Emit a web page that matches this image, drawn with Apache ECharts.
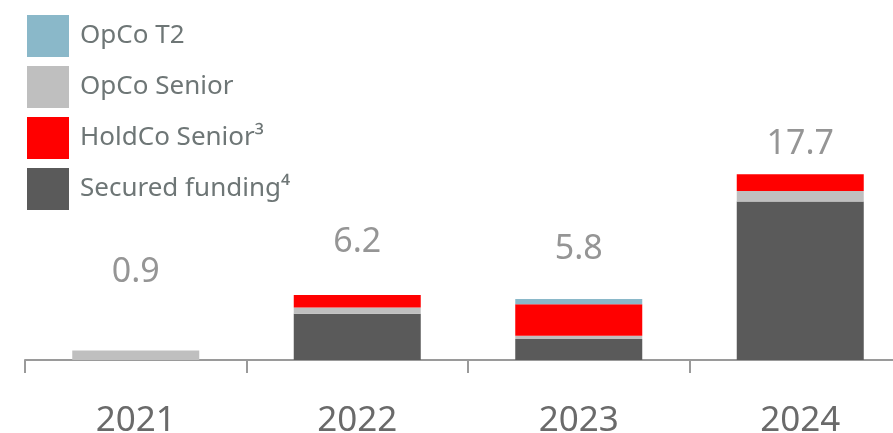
<!DOCTYPE html>
<html>
<head>
<meta charset="utf-8">
<script src="https://cdn.jsdelivr.net/npm/echarts@6/dist/echarts.min.js"></script>
<style>html,body{margin:0;padding:0;background:#fff}#c{width:893px;height:433px}</style>
</head>
<body>
<div id="c"></div>
<script>
var categories = ['2021', '2022', '2023', '2024'];
var securedFunding = [0, 4.4, 2.0, 15.1];
var holdcoSenior = [0, 1.2, 3.0, 1.6];
var opcoSenior = [0.9, 0.6, 0.3, 1.0];
var opcoT2 = [0, 0, 0.5, 0];
var totals = [0.9, 6.2, 5.8, 17.7];
var totalLabels = ['0.9', '6.2', '5.8', '17.7'];

var labelOffsets = [-78, -53, -50, -30];
var FONT = 'Noto Sans';

var chart = echarts.init(document.getElementById('c'), null, {renderer: 'canvas'});
function barSeries(name, data, color) {
  return {
    name: name, type: 'bar', stack: 'total', data: data, barWidth: 127,
    itemStyle: {color: color}, emphasis: {disabled: true}
  };
}
var option = {
  animation: false,
  legend: {
    orient: 'vertical', left: 27, top: 15, padding: 0, itemWidth: 42, itemHeight: 42, itemGap: 9,
    icon: 'rect',
    data: ['OpCo T2', 'OpCo Senior', 'HoldCo Senior³', 'Secured funding⁴'],
    textStyle: {fontFamily: FONT, fontSize: 26, color: '#6e7676', padding: [0, 0, 0, 6]}
  },
  grid: {left: 25, right: -18, top: 150, bottom: 73, containLabel: false, outerBoundsMode: 'none'},
  xAxis: {
    type: 'category', data: categories,
    axisLine: {lineStyle: {color: '#9a9a9a', width: 2}},
    axisTick: {show: true, length: 13, lineStyle: {color: '#9a9a9a', width: 2}},
    axisLabel: {fontFamily: FONT, fontSize: 35, color: '#6a6a6a', margin: 44}
  },
  yAxis: {type: 'value', min: 0, max: 20, show: false, splitLine: {show: false}},
  series: [
    barSeries('Secured funding⁴', securedFunding, '#5a5a5a'),
    barSeries('OpCo Senior', opcoSenior, '#bfbfbf'),
    barSeries('HoldCo Senior³', holdcoSenior, '#ff0000'),
    barSeries('OpCo T2', opcoT2, '#8ab8c9'),
    {
      type: 'scatter', symbolSize: 0, silent: true,
      data: totals.map(function (v, i) {
        return {value: v, label: {offset: [0, labelOffsets[i]], formatter: totalLabels[i]}};
      }),
      label: {show: true, position: 'inside', fontFamily: FONT, fontSize: 34, color: '#7a7a7a'}
    }
  ]
};
chart.setOption(option);
</script>
</body>
</html>
